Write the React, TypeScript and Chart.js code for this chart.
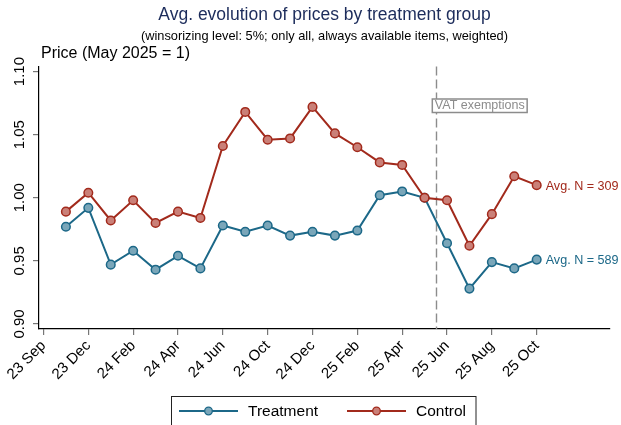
import React, { useEffect, useRef } from "react";
import { Chart, registerables } from "chart.js";

Chart.register(...registerables);

// ---- Data ----
const periods = [1, 2, 3, 4, 5, 6, 7, 8, 9, 10, 11, 12, 13, 14, 15, 16, 17, 18, 19, 20, 21, 22];
const treatment = [0.977, 0.992, 0.947, 0.958, 0.943, 0.954, 0.944, 0.978, 0.973, 0.978, 0.970, 0.973, 0.970, 0.974, 1.002, 1.005, 1.000, 0.964, 0.928, 0.949, 0.944, 0.951];
const control = [0.989, 1.004, 0.982, 0.998, 0.980, 0.989, 0.984, 1.041, 1.068, 1.046, 1.047, 1.072, 1.051, 1.040, 1.028, 1.026, 1.000, 0.998, 0.962, 0.987, 1.017, 1.010];
const tickPositions = [0, 2, 4, 6, 8, 10, 12, 14, 16, 18, 20, 22];
const tickLabels = ["23 Sep", "23 Dec", "24 Feb", "24 Apr", "24 Jun", "24 Oct", "24 Dec", "25 Feb", "25 Apr", "25 Jun", "25 Aug", "25 Oct"];
const yTicks = [0.9, 0.95, 1.0, 1.05, 1.1];
const vatPosition = 17.5;
const vatLabel = "VAT exemptions";
const treatmentN = 589;
const controlN = 309;
const titleText = "Avg. evolution of prices by treatment group";
const subtitleText = "(winsorizing level: 5%; only all, always available items, weighted)";
const yTitle = "Price (May 2025 = 1)";

// ---- Styles ----
const FONT = "'Liberation Sans', Arial, Helvetica, sans-serif";
const BLUE = "rgb(28,104,136)";
const BLUE_FILL = "rgb(122,166,185)";
const RED = "rgb(162,42,28)";
const RED_FILL = "rgb(202,128,120)";
const TITLE_COLOR = "#1c2c5b";

const overlayPlugin = {
  id: "overlay",
  beforeDatasetsDraw(chart: any) {
    const ctx = chart.ctx;
    const xs = chart.scales.x;
    const area = chart.chartArea;
    const x = Math.round(xs.getPixelForValue(vatPosition)) + 0.5;
    ctx.save();
    ctx.strokeStyle = "#8c8c8c";
    ctx.lineWidth = 1.4;
    ctx.setLineDash([9, 4]);
    ctx.beginPath();
    ctx.moveTo(x, area.top);
    ctx.lineTo(x, area.bottom);
    ctx.stroke();
    ctx.restore();
  },
  afterDraw(chart: any) {
    const ctx = chart.ctx;
    const xs = chart.scales.x;
    const ys = chart.scales.y;
    const area = chart.chartArea;
    const cx = (area.left + area.right) / 2;
    ctx.save();
    // Titles
    ctx.textAlign = "center";
    ctx.textBaseline = "alphabetic";
    ctx.fillStyle = TITLE_COLOR;
    ctx.font = `17.5px ${FONT}`;
    ctx.fillText(titleText, cx, 19.5);
    ctx.fillStyle = "#000";
    ctx.font = `12.8px ${FONT}`;
    ctx.fillText(subtitleText, cx, 39.5);
    ctx.textAlign = "left";
    ctx.font = `16px ${FONT}`;
    ctx.fillText(yTitle, 41, 57.5);

    // VAT box
    const vx = xs.getPixelForValue(vatPosition);
    ctx.font = `12.5px ${FONT}`;
    const tw = ctx.measureText(vatLabel).width;
    const bx = vx - 3.5;
    const by = 99;
    ctx.fillStyle = "#fff";
    ctx.fillRect(bx, by, tw + 5, 13.5);
    ctx.strokeStyle = "#8c8c8c";
    ctx.lineWidth = 1.5;
    ctx.setLineDash([]);
    ctx.strokeRect(bx, by, tw + 5, 13.5);
    ctx.fillStyle = "#8c8c8c";
    ctx.textBaseline = "middle";
    ctx.fillText(vatLabel, bx + 2.5, by + 7);

    // End labels
    const last = periods.length - 1;
    const lx = xs.getPixelForValue(periods[last]) + 9;
    ctx.font = `12.6px ${FONT}`;
    ctx.fillStyle = RED;
    ctx.fillText(`Avg. N = ${controlN}`, lx, ys.getPixelForValue(control[last]) + 1);
    ctx.fillStyle = BLUE;
    ctx.fillText(`Avg. N = ${treatmentN}`, lx, ys.getPixelForValue(treatment[last]) + 1);

    // Legend
    ctx.strokeStyle = "#222";
    ctx.lineWidth = 1;
    ctx.strokeRect(171.5, 396.5, 304.5, 40);
    const items = [
      { label: "Treatment", line: BLUE, fill: BLUE_FILL, x0: 179 },
      { label: "Control", line: RED, fill: RED_FILL, x0: 347 },
    ];
    const ly = 411;
    ctx.font = `15.5px ${FONT}`;
    for (const it of items) {
      ctx.strokeStyle = it.line;
      ctx.lineWidth = 2;
      ctx.beginPath();
      ctx.moveTo(it.x0, ly);
      ctx.lineTo(it.x0 + 59, ly);
      ctx.stroke();
      ctx.beginPath();
      ctx.arc(it.x0 + 29.5, ly, 3.8, 0, Math.PI * 2);
      ctx.fillStyle = it.fill;
      ctx.fill();
      ctx.lineWidth = 1.3;
      ctx.stroke();
      ctx.fillStyle = "#000";
      ctx.textBaseline = "middle";
      ctx.fillText(it.label, it.x0 + 69, ly + 0.5);
    }
    ctx.restore();
  },
};

export default function App() {
  const ref = useRef<HTMLCanvasElement | null>(null);
  useEffect(() => {
    if (!ref.current) return;
    const chart = new Chart(ref.current, {
      type: "line",
      data: {
        datasets: [
          {
            label: "Treatment",
            data: periods.map((p, i) => ({ x: p, y: treatment[i] })),
            borderColor: BLUE,
            backgroundColor: BLUE_FILL,
            pointBackgroundColor: BLUE_FILL,
            pointBorderColor: BLUE,
            borderWidth: 2,
            pointRadius: 4.3,
            pointBorderWidth: 1.5,
            tension: 0,
            order: 1,
          },
          {
            label: "Control",
            data: periods.map((p, i) => ({ x: p, y: control[i] })),
            borderColor: RED,
            backgroundColor: RED_FILL,
            pointBackgroundColor: RED_FILL,
            pointBorderColor: RED,
            borderWidth: 2,
            pointRadius: 4.3,
            pointBorderWidth: 1.5,
            tension: 0,
            order: 0,
          },
        ],
      },
      options: {
        animation: false,
        responsive: true,
        maintainAspectRatio: false,
        devicePixelRatio: 1,
        layout: { padding: { left: 0, top: 66.5, right: 11, bottom: 0 } },
        plugins: {
          legend: { display: false },
          title: { display: false },
          tooltip: { enabled: false },
        },
        scales: {
          x: {
            type: "linear",
            min: -0.2,
            max: 25.27,
            afterBuildTicks: (scale: any) => {
              scale.ticks = tickPositions.map((v) => ({ value: v }));
            },
            afterFit: (scale: any) => {
              scale.height = 96;
              scale.paddingLeft = 0;
              scale.paddingRight = 0;
            },
            ticks: {
              autoSkip: false,
              minRotation: 45,
              maxRotation: 45,
              padding: 2,
              color: "#000",
              font: { family: FONT, size: 15 },
              callback: (v: any) => {
                const i = tickPositions.indexOf(Number(v));
                return i >= 0 ? tickLabels[i] : "";
              },
            },
            grid: { display: true, drawOnChartArea: false, drawTicks: true, tickLength: 6, tickColor: "#777", lineWidth: 1.2 },
            border: { display: true, color: "#000", width: 1.2 },
          },
          y: {
            type: "linear",
            min: 0.896,
            max: 1.104,
            afterBuildTicks: (scale: any) => {
              scale.ticks = yTicks.map((v) => ({ value: v }));
            },
            afterFit: (scale: any) => {
              scale.width = 39;
              scale.paddingTop = 0;
              scale.paddingBottom = 0;
            },
            ticks: {
              autoSkip: false,
              minRotation: 90,
              maxRotation: 90,
              crossAlign: "center",
              padding: -1,
              color: "#000",
              font: { family: FONT, size: 15 },
              callback: (v: any) => Number(v).toFixed(2),
            },
            grid: { display: true, drawOnChartArea: false, drawTicks: true, tickLength: 6, tickColor: "#777", lineWidth: 1.2 },
            border: { display: true, color: "#000", width: 1.2 },
          },
        },
      },
      plugins: [overlayPlugin],
    } as any);
    return () => chart.destroy();
  }, []);
  return (
    <div style={{ position: "fixed", left: 0, top: 0, width: 621, height: 425, background: "#fff" }}>
      <canvas ref={ref} />
    </div>
  );
}
